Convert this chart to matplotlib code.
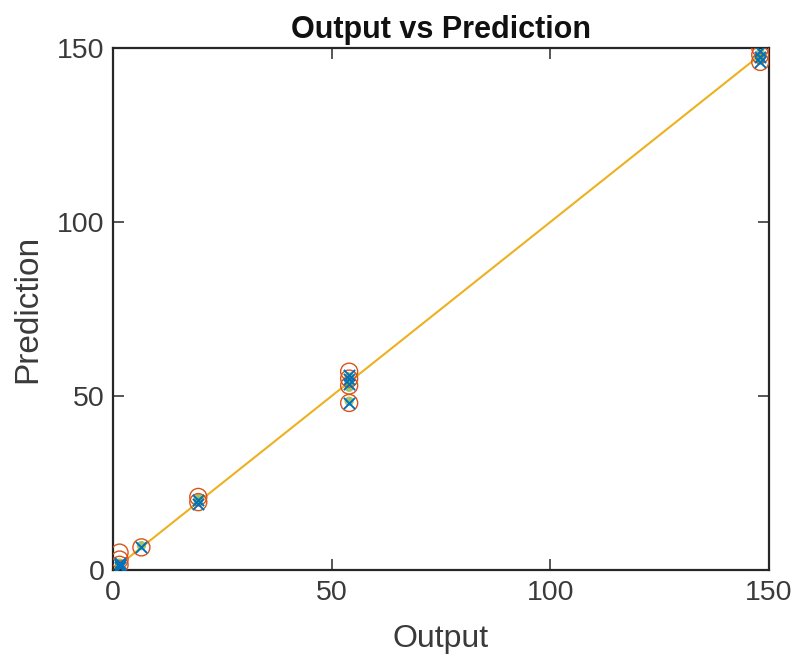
import matplotlib
matplotlib.use("Agg")
import matplotlib.pyplot as plt

plt.rcParams['font.family'] = ['Liberation Sans', 'DejaVu Sans']

# Observed outputs (x) and predictions of several runs
output = [1.5, 1.5, 1.5, 6.5, 19.5, 19.5, 54, 54, 54, 54, 148, 148, 148]
pred_o = [5.0, 3.0, 1.5, 6.5, 21.0, 19.5, 57.0, 55.0, 53.0, 48.0, 150.0, 148.0, 146.0]
pred_x = [1.5, 1.0, 2.0, 6.5, 20.0, 19.0, 56.0, 55.0, 53.5, 48.0, 149.0, 147.5, 146.0]
pred_s = [1.5, 2.0, 1.0, 7.0, 20.5, 19.5, 55.5, 54.0, 52.5, 48.5, 148.5, 147.0, 146.5]
line_x = [0, 148]

W, H = 792, 658
L, R, B, T = 113, 769, 570, 48
fig = plt.figure(figsize=(W/100, H/100), dpi=100)
ax = fig.add_axes([L/W, 1-B/H, (R-L)/W, (B-T)/H])

ax.plot(line_x, line_x, color='#EDB120', lw=1.5, zorder=1)
ax.scatter(output, pred_s, s=45, marker='o', facecolors='#77AC30', edgecolors='none', alpha=0.7, zorder=2)
ax.scatter(output, pred_o, s=150, facecolors='none', edgecolors='#D95319', linewidths=1.0, zorder=3)
ax.scatter(output, pred_x, s=65, marker='x', color='#0072BD', linewidths=1.4, zorder=4)

ax.set_xlim(0, 150)
ax.set_ylim(0, 150)
ax.set_xticks([0, 50, 100, 150])
ax.set_yticks([0, 50, 100, 150])
ax.tick_params(direction='in', top=True, right=True, length=8, width=1.2,
               labelsize=20.5, colors='#3a3a3a')
ax.tick_params(axis='x', pad=7)
ax.tick_params(axis='y', pad=6)
for sp in ax.spines.values():
    sp.set_linewidth(1.6)
    sp.set_color('#262626')
ax.set_xlabel('Output', fontsize=23, color='#3a3a3a', labelpad=13)
ax.set_ylabel('Prediction', fontsize=24, color='#3a3a3a', labelpad=10)
ax.set_title('Output vs Prediction', fontsize=22, fontweight='bold', pad=7, color='#111111')

fig.savefig('out.png', dpi=100)
